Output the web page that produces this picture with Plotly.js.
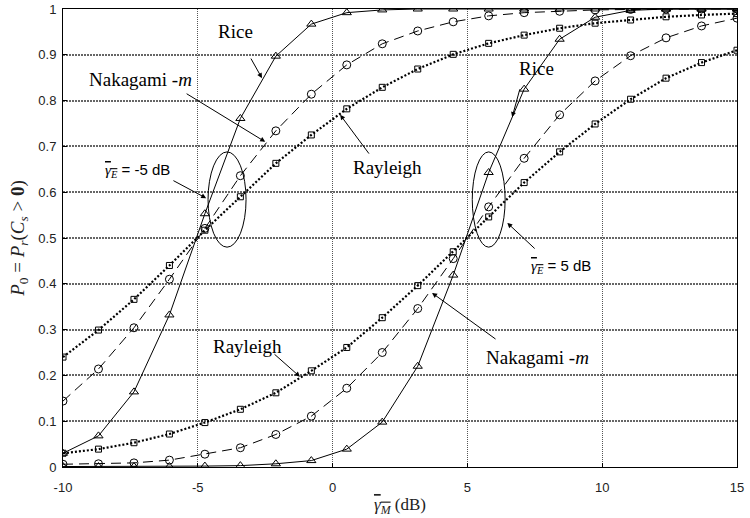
<!DOCTYPE html>
<html>
<head>
<meta charset="utf-8">
<script src="https://cdn.plot.ly/plotly-3.0.1.min.js"></script>
<style>html,body{margin:0;padding:0;background:#fff;}#chart{width:750px;height:518px;}</style>
</head>
<body>
<div id="chart"></div>
<script>
// SNR of main channel (dB)
const gammaM = [-10, -8.684, -7.368, -6.053, -4.737, -3.421, -2.105, -0.789, 0.526, 1.842,
                3.158, 4.474, 5.789, 7.105, 8.421, 9.737, 11.053, 12.368, 13.684, 15];
// gammaE = -5 dB
const rice1 = [0.030, 0.068, 0.164, 0.332, 0.553, 0.761, 0.897, 0.967, 0.992, 0.998,
               1, 1, 1, 1, 1, 1, 1, 1, 1, 1];
const nak1  = [0.144, 0.214, 0.304, 0.410, 0.521, 0.636, 0.734, 0.814, 0.878, 0.924,
               0.952, 0.972, 0.985, 0.992, 0.995, 0.998, 0.999, 1, 1, 1];
const ray1  = [0.240, 0.299, 0.366, 0.440, 0.517, 0.590, 0.663, 0.725, 0.782, 0.829,
               0.869, 0.901, 0.925, 0.943, 0.958, 0.969, 0.976, 0.983, 0.987, 0.990];
// gammaE = 5 dB
const rice2 = [0.001, 0.001, 0.001, 0.001, 0.002, 0.003, 0.007, 0.014, 0.039, 0.098,
               0.220, 0.419, 0.643, 0.825, 0.934, 0.982, 0.997, 1, 1, 1];
const nak2  = [0.006, 0.007, 0.009, 0.015, 0.028, 0.042, 0.071, 0.111, 0.172, 0.250,
               0.346, 0.455, 0.568, 0.674, 0.769, 0.843, 0.898, 0.937, 0.963, 0.980];
const ray2  = [0.030, 0.039, 0.053, 0.072, 0.097, 0.126, 0.162, 0.210, 0.261, 0.326,
               0.396, 0.470, 0.546, 0.621, 0.688, 0.749, 0.803, 0.849, 0.883, 0.910];

const xTicks = [-10, -5, 0, 5, 10, 15];
const yTicks = [0, 0.1, 0.2, 0.3, 0.4, 0.5, 0.6, 0.7, 0.8, 0.9, 1];
const yTickText = ['0', '0.1', '0.2', '0.3', '0.4', '0.5', '0.6', '0.7', '0.8', '0.9', '1'];

const riceStyle = {line: {color: '#000', width: 1, dash: 'solid'},
  marker: {symbol: 'triangle-up-open', size: 8, color: '#000', line: {width: 1, color: '#000'}}};
const nakStyle = {line: {color: '#000', width: 1, dash: '10px,6px'},
  marker: {symbol: 'circle-open', size: 8, color: '#000', line: {width: 1, color: '#000'}}};
const rayStyle = {line: {color: '#000', width: 2.2, dash: '2px,2px'},
  marker: {symbol: 'square-open', size: 6, color: '#000', line: {width: 1, color: '#000'}}};

function tr(y, st, name) {
  return Object.assign({x: gammaM, y: y, type: 'scatter', mode: 'lines+markers', name: name,
    showlegend: false, hoverinfo: 'skip'}, JSON.parse(JSON.stringify(st)));
}
const data = [
  tr(ray1, rayStyle, 'Rayleigh'), tr(nak1, nakStyle, 'Nakagami-m'), tr(rice1, riceStyle, 'Rice'),
  tr(ray2, rayStyle, 'Rayleigh'), tr(nak2, nakStyle, 'Nakagami-m'), tr(rice2, riceStyle, 'Rice')
];

const serif = 'Liberation Serif, Times New Roman, serif';
const sans = 'Liberation Sans, Arial, sans-serif';
function lab(text, x, y, size, family) {
  return {text: text, x: x, y: y, xref: 'x', yref: 'y', showarrow: false,
    font: {family: family || serif, size: size || 19, color: '#000'}, xanchor: 'center', yanchor: 'middle'};
}
function arr(x, y, ax, ay) {
  return {text: '', x: x, y: y, ax: ax, ay: ay, xref: 'x', yref: 'y', axref: 'x', ayref: 'y',
    showarrow: true, arrowhead: 2, arrowsize: 1, arrowwidth: 1, arrowcolor: '#000', standoff: 0, startstandoff: 0};
}
const gE = (v) => "<span style='text-decoration:overline;font-family:Liberation Serif'><i>γ<sub>E</sub></i></span> = " + v + " dB";

const annotations = [
  lab('Rice', -3.62, 0.950),
  arr(-2.62, 0.849, -3.06, 0.895),
  lab('Nakagami -<i>m</i>', -7.14, 0.845),
  arr(-2.50, 0.710, -5.47, 0.817),
  lab(gE('-5'), -7.25, 0.648, 15, sans),
  arr(-4.69, 0.587, -5.96, 0.627),
  lab('Rayleigh', 2.02, 0.655),
  arr(0.28, 0.769, 1.39, 0.681),
  lab('Rice', 7.55, 0.871),
  arr(6.66, 0.764, 6.96, 0.828),
  lab(gE('5'), 8.48, 0.437, 15, sans),
  arr(6.48, 0.533, 7.55, 0.474),
  lab('Rayleigh', -3.14, 0.264),
  arr(-1.21, 0.197, -2.21, 0.249),
  lab('Nakagami -<i>m</i>', 7.59, 0.240),
  arr(3.69, 0.380, 6.10, 0.277)
];

const shapes = [
  {type: 'circle', xref: 'x', yref: 'y', x0: -4.62, x1: -3.21, y0: 0.480, y1: 0.688, line: {color: '#000', width: 1}},
  {type: 'circle', xref: 'x', yref: 'y', x0: 5.18, x1: 6.40, y0: 0.480, y1: 0.688, line: {color: '#000', width: 1}}
];

const layout = {
  width: 750, height: 518,
  margin: {l: 63, r: 13, t: 9, b: 51},
  paper_bgcolor: '#fff', plot_bgcolor: '#fff',
  xaxis: {
    range: [-10, 15], tickvals: xTicks, ticktext: xTicks.map(String),
    showgrid: true, gridcolor: '#555', gridwidth: 1, griddash: '1px,1px',
    zeroline: false, showline: true, mirror: true, linecolor: '#000', linewidth: 1,
    ticks: 'inside', ticklen: 4, tickcolor: '#000', ticklabelstandoff: 8,
    tickfont: {family: sans, size: 13, color: '#222'},
    title: {text: "<span style='text-decoration:overline'><i>γ<sub>M</sub></i></span> (dB)",
      font: {family: serif, size: 17, color: '#222'}, standoff: 4}
  },
  yaxis: {
    range: [0, 1], tickvals: yTicks, ticktext: yTickText,
    showgrid: true, gridcolor: '#666', gridwidth: 2, griddash: '2px,1px',
    zeroline: false, showline: true, mirror: true, linecolor: '#000', linewidth: 1,
    ticks: 'inside', ticklen: 4, tickcolor: '#000', ticklabelstandoff: 3,
    tickfont: {family: sans, size: 13, color: '#222'},
    title: {text: '<i>P</i><sub>0</sub> = <i>P<sub>r</sub></i>(<i>C<sub>s</sub></i> > <b>0</b>)',
      font: {family: serif, size: 19, color: '#222'}, standoff: 8}
  },
  annotations: annotations,
  shapes: shapes
};

Plotly.newPlot('chart', data, layout, {staticPlot: true, displayModeBar: false});
</script>
</body>
</html>
